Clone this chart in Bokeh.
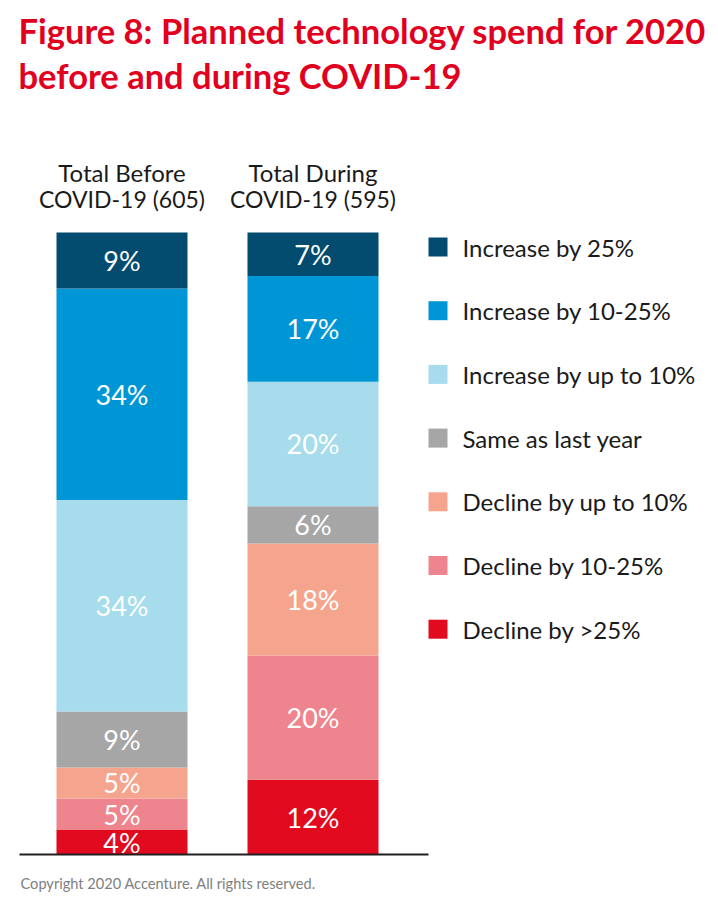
from bokeh.plotting import figure
from bokeh.models import Range1d, ColumnDataSource
from bokeh.embed import file_html
from bokeh.resources import INLINE
from bokeh.core.properties import value

# ---------------- data ----------------
cat_line1 = ["Total Before", "Total During"]
cat_line2 = ["COVID-19 (605)", "COVID-19 (595)"]
series = ["Increase by 25%", "Increase by 10-25%", "Increase by up to 10%",
          "Same as last year", "Decline by up to 10%", "Decline by 10-25%",
          "Decline by >25%"]
before = [9, 34, 34, 9, 5, 5, 4]
during = [7, 17, 20, 6, 18, 20, 12]
colors = ["#034B6F", "#0096D6", "#A6DCEC", "#A6A6A6", "#F5A58E", "#EE848D", "#E10A1E"]

title_lines = ["Figure 8: Planned technology spend for 2020", "before and during COVID-19"]
copyright_text = "Copyright 2020 Accenture. All rights reserved."

# ---------------- layout helpers (page pixels -> data) ----------------
W, H = 712, 898
OFF = 0                          # canvas offset on the page
X0_PAGE, X_PX = 121.5, 191.0     # centre of first bar, px per category step
Y0_PAGE, Y_PX = 854.0, 6.22      # baseline (0 %), px per percent

def px(page_x):
    return (page_x - X0_PAGE) / X_PX

def py(page_y):
    return (Y0_PAGE - page_y) / Y_PX

p = figure(width=W, height=H, output_backend="svg", toolbar_location=None,
           x_range=Range1d(px(OFF), px(OFF + W)), y_range=Range1d(py(OFF + H), py(OFF)),
           x_axis_type=None, y_axis_type=None, min_border=0)
p.grid.visible = False
p.outline_line_color = None
p.background_fill_color = "white"
p.border_fill_color = "white"

FONT = "Lato"

# ---------------- stacked bars ----------------
xs, bottoms, tops, fills, labels, mids = [], [], [], [], [], []
for ci, vals in enumerate([before, during]):
    acc = 0
    for si in reversed(range(len(series))):
        v = vals[si]
        xs.append(ci)
        bottoms.append(acc)
        tops.append(acc + v)
        mids.append(acc + v / 2)
        fills.append(colors[si])
        labels.append(f"{v}%")
        acc += v

src = ColumnDataSource(dict(x=xs, bottom=bottoms, top=tops, color=fills, label=labels, mid=mids))
p.vbar(x="x", bottom="bottom", top="top", width=131 / X_PX, fill_color="color",
       line_color=None, source=src)
p.text(x="x", y="mid", text="label", source=src, text_color="white",
       text_font=value(FONT), text_font_size="27px", text_align="center",
       text_baseline="middle")

# baseline
p.segment(x0=[px(19)], x1=[px(428)], y0=[0], y1=[0], line_color="#231F20", line_width=2)

# category headers
p.text(x=[0, 1], y=[py(172)] * 2, text=cat_line1, text_color="#1a1a1a",
       text_font=value(FONT), text_font_size="24px", text_align="center",
       text_baseline="alphabetic")
p.text(x=[0, 1], y=[py(198)] * 2, text=cat_line2, text_color="#1a1a1a",
       text_font=value(FONT), text_font_size="23px", text_align="center",
       text_baseline="alphabetic")

# legend (manual)
leg_y = [py(246.5 + 63.7 * i) for i in range(len(series))]
p.scatter(x=[px(437.5)] * len(series), y=leg_y, marker="square", size=19,
          fill_color=colors, line_color=None)
p.text(x=[px(462)] * len(series), y=leg_y, text=series, text_color="#1a1a1a",
       text_font=value(FONT), text_font_size="24px", text_align="left",
       text_baseline="middle")

# title
p.text(x=[px(18)] * 2, y=[py(30), py(75)], text=title_lines, text_color="#E1001E",
       text_font=value(FONT), text_font_style="bold", text_font_size="34.5px",
       text_align="left", text_baseline="alphabetic")

# copyright
p.text(x=[px(20)], y=[py(883)], text=[copyright_text], text_color="#808080",
       text_font=value(FONT), text_font_size="14.6px", text_align="left",
       text_baseline="alphabetic")

open("out.html", "w").write(file_html(p, INLINE))
